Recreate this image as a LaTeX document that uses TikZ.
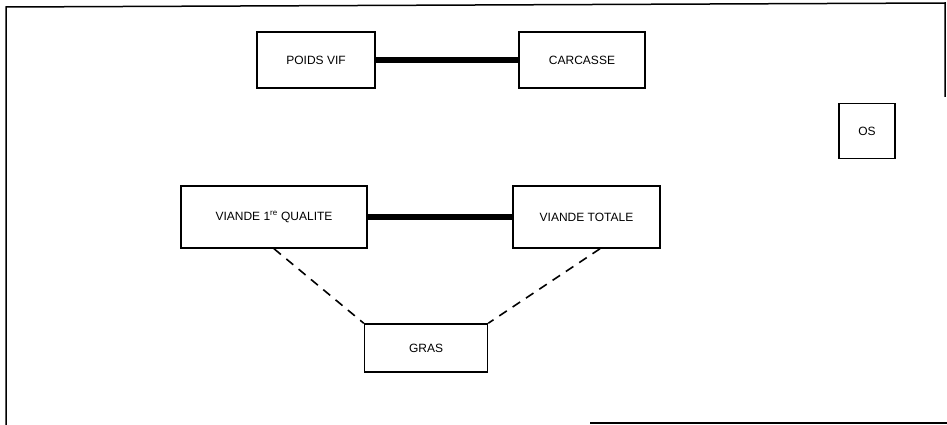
\documentclass[tikz,border=0pt]{standalone}
\usepackage{fontspec}
\setmainfont{Liberation Sans}
\begin{document}
\begin{tikzpicture}[x=1pt, y=-1pt, line width=1.5pt,
  box/.style={draw, rectangle, inner sep=0pt, font=\fontsize{12}{14}\selectfont},
  thickline/.style={line width=5.5pt},
  dashline/.style={line width=1.6pt, dash pattern=on 9pt off 7pt}]
\useasboundingbox (0,0) rectangle (947,425);
% frame
\draw (6,425) -- (6,7) -- (945,3) -- (945,97);
\draw (590,423) -- (947,423);

\node[box, minimum width=118pt, minimum height=56pt] (poids) at (316,60) {POIDS VIF};
\node[box, minimum width=126pt, minimum height=56pt] (carcasse) at (582,60) {CARCASSE};
\draw[thickline] (poids) -- (carcasse);

\node[box, minimum width=56pt, minimum height=55pt] (os) at (867,131) {OS};

\node[box, minimum width=186pt, minimum height=62pt] (viande1) at (274,217) {VIANDE 1\textsuperscript{re} QUALITE};
\node[box, minimum width=147pt, minimum height=62pt] (viandetot) at (586.5,217) {VIANDE TOTALE};
\draw[thickline] (viande1) -- (viandetot);

\node[box, minimum width=123pt, minimum height=48pt] (gras) at (426,348) {GRAS};
\draw[dashline] (viande1.south) -- (gras.north west);
\draw[dashline] ([xshift=13.5pt]viandetot.south) -- (gras.north east);
\end{tikzpicture}
\end{document}
